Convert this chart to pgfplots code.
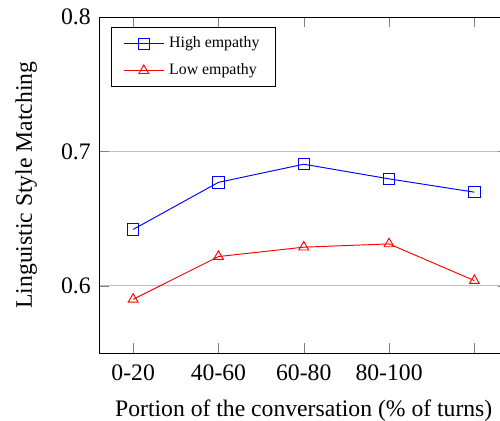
\documentclass[border=0pt]{standalone}
\usepackage{pgfplots}
\pgfplotsset{compat=1.18}
\usepackage{fontspec}
\setmainfont{Liberation Serif}
\begin{document}
\begin{tikzpicture}
\begin{axis}[
  name=ax,
  scale only axis,
  width=173.1pt, height=142.06pt,
  xmin=0.6, xmax=5.4,
  ymin=0.55, ymax=0.8,
  xtick={1,2,3,4,5},
  xticklabels={0-20,40-60,60-80,80-100,{}},
  ytick={0.6,0.7,0.8},
  yticklabel style={/pgf/number format/fixed,/pgf/number format/precision=1},
  /pgf/number format/assume math mode=true,
  ymajorgrids,
  xticklabel style={anchor=base, yshift=-11.8pt},
  every axis x label/.style={at={(axis description cs:0.5,0)}, anchor=base, yshift=-26.9pt},
  every axis y label/.style={at={(axis description cs:-0.1637,0.5)}, rotate=90, anchor=base},
  xlabel={Portion of the conversation (\% of turns)},
  ylabel={Linguistic Style Matching},
  legend style={at={(0.03,0.97)}, anchor=north west, font=\fontsize{6.7}{8}\selectfont, cells={anchor=west}, row sep=1.2pt, inner xsep=4.8pt, inner ysep=1.8pt},
  mark size=2.4pt,
]
\addplot[blue, mark=square] coordinates {(1,0.642) (2,0.677) (3,0.6905) (4,0.6796) (5,0.6697)};
\addlegendentry{High empathy}
\addplot[red, mark=triangle] coordinates {(1,0.5900) (2,0.6218) (3,0.6288) (4,0.6312) (5,0.6039)};
\addlegendentry{Low empathy}
\end{axis}
\pgfresetboundingbox
\path[use as bounding box] ([xshift=-41.86pt,yshift=-28.33pt]ax.south west) rectangle ([xshift=169.5pt,yshift=149.25pt]ax.south west);
\end{tikzpicture}
\end{document}
